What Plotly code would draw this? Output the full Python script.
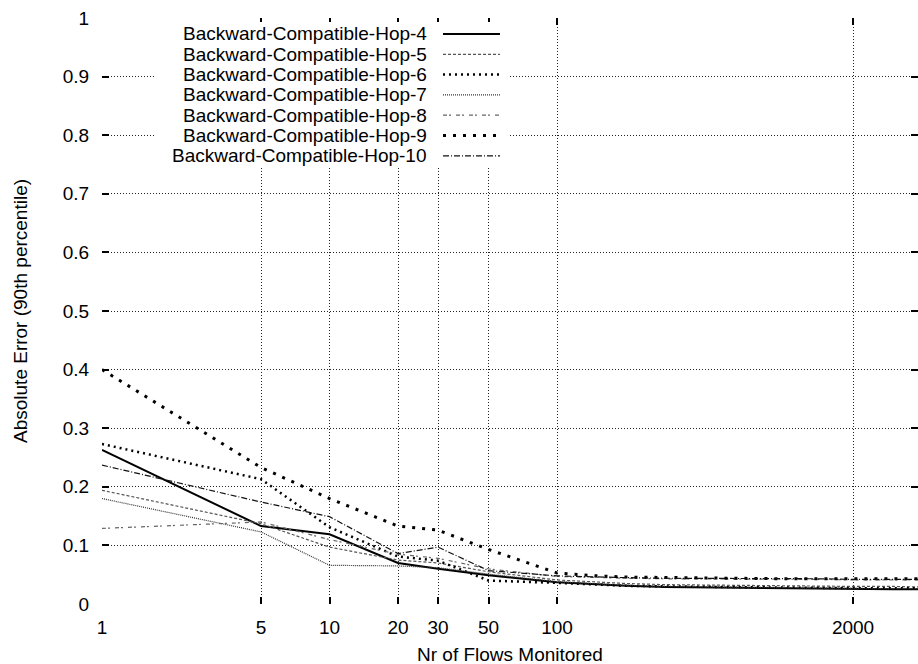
import math
import plotly.graph_objects as go

# ---- data ----
flows = [1, 5, 10, 20, 30, 50, 100, 150, 200, 300, 500, 700, 1000, 1500, 2000, 3000, 4000]
series_names = [
    "Backward-Compatible-Hop-4",
    "Backward-Compatible-Hop-5",
    "Backward-Compatible-Hop-6",
    "Backward-Compatible-Hop-7",
    "Backward-Compatible-Hop-8",
    "Backward-Compatible-Hop-9",
    "Backward-Compatible-Hop-10",
]
hop4 = [0.263, 0.133, 0.119, 0.070, 0.060, 0.049, 0.037, 0.033, 0.031, 0.029, 0.028, 0.027, 0.026, 0.026, 0.025, 0.025, 0.025]
hop5 = [0.194, 0.137, 0.097, 0.075, 0.070, 0.055, 0.041, 0.037, 0.035, 0.033, 0.032, 0.031, 0.031, 0.030, 0.030, 0.030, 0.029]
hop6 = [0.273, 0.213, 0.131, 0.081, 0.074, 0.040, 0.036, 0.033, 0.031, 0.030, 0.029, 0.028, 0.028, 0.027, 0.027, 0.027, 0.027]
hop7 = [0.180, 0.123, 0.066, 0.065, 0.062, 0.051, 0.038, 0.034, 0.032, 0.030, 0.029, 0.028, 0.028, 0.027, 0.027, 0.026, 0.026]
hop8 = [0.129, 0.140, 0.110, 0.085, 0.078, 0.060, 0.047, 0.045, 0.044, 0.043, 0.043, 0.042, 0.042, 0.042, 0.041, 0.041, 0.041]
hop9 = [0.400, 0.233, 0.180, 0.133, 0.126, 0.093, 0.053, 0.048, 0.046, 0.045, 0.044, 0.044, 0.043, 0.043, 0.043, 0.043, 0.043]
hop10 = [0.237, 0.174, 0.149, 0.086, 0.097, 0.057, 0.048, 0.046, 0.045, 0.044, 0.044, 0.043, 0.043, 0.043, 0.042, 0.042, 0.042]
series_values = [hop4, hop5, hop6, hop7, hop8, hop9, hop10]

x_tickvals = [1, 5, 10, 20, 30, 50, 100, 2000]
x_ticktext = ["1", "5", "10", "20", "30", "50", "100", "2000"]
y_tickvals = [0, 0.1, 0.2, 0.3, 0.4, 0.5, 0.6, 0.7, 0.8, 0.9, 1]
y_ticktext = ["0", "0.1", "0.2", "0.3", "0.4", "0.5", "0.6", "0.7", "0.8", "0.9", "1"]

# ---- styles ----
styles = [
    dict(color="#000000", width=2.0, dash="solid"),
    dict(color="#555555", width=1.2, dash="3px,2px"),
    dict(color="#000000", width=2.5, dash="2px,4px"),
    dict(color="#333333", width=1.2, dash="1px,1px"),
    dict(color="#666666", width=1.2, dash="4px,2px,2px,5px"),
    dict(color="#000000", width=3.0, dash="3px,7px"),
    dict(color="#111111", width=1.2, dash="6px,2px,1px,2px"),
]

FONT = "Liberation Sans, Arial, Helvetica, sans-serif"

fig = go.Figure()
for name, vals, st in zip(series_names, series_values, styles):
    fig.add_trace(go.Scatter(x=flows, y=vals, mode="lines", name=name,
                             line=st, showlegend=False))

# custom legend (text left, sample right, like gnuplot)
shapes = [dict(type="rect", xref="paper", yref="paper", x0=0.065, x1=0.4975,
               y0=0.7474, y1=0.9932, fillcolor="white", line=dict(width=0),
               layer="above")]
annotations = []
row0 = 0.9727
step = 0.03464
for i, (name, st) in enumerate(zip(series_names, styles)):
    yy = row0 - i * step
    annotations.append(dict(text=name, xref="paper", yref="paper", x=0.4007, y=yy,
                            xanchor="right", yanchor="middle", showarrow=False,
                            font=dict(family=FONT, size=19, color="black")))
    shapes.append(dict(type="line", xref="paper", yref="paper", x0=0.4179, x1=0.4877,
                       y0=yy, y1=yy, line=st, layer="above"))

annotations.append(dict(text="Nr of Flows Monitored", xref="paper", yref="paper",
                        x=0.5, y=-0.087, xanchor="center", yanchor="middle",
                        showarrow=False, font=dict(family=FONT, size=19, color="black")))
annotations.append(dict(text="Absolute Error (90th percentile)", xref="paper", yref="paper",
                        x=-0.1005, y=0.5, xanchor="center", yanchor="middle", textangle=-90,
                        showarrow=False, font=dict(family=FONT, size=19, color="black")))

fig.update_layout(
    width=918, height=664,
    margin=dict(l=102, r=0, t=18, b=60),
    paper_bgcolor="white", plot_bgcolor="white",
    font=dict(family=FONT, size=19, color="black"),
    shapes=shapes, annotations=annotations,
    showlegend=False,
)
fig.update_xaxes(
    type="log", range=[0, math.log10(3860)],
    tickmode="array", tickvals=x_tickvals, ticktext=x_ticktext,
    ticks="inside", ticklen=7, tickwidth=1.5, tickcolor="black",
    mirror="ticks", showline=True, linecolor="rgba(0,0,0,0)", zeroline=False,
    showgrid=True, gridcolor="#222222", gridwidth=1, griddash="1px,2px",
    ticklabelstandoff=6,
)
fig.update_yaxes(
    range=[0, 1],
    tickmode="array", tickvals=y_tickvals, ticktext=y_ticktext,
    ticks="inside", ticklen=7, tickwidth=1.5, tickcolor="black",
    mirror="ticks", showline=True, linecolor="rgba(0,0,0,0)", zeroline=False,
    showgrid=True, gridcolor="#222222", gridwidth=1, griddash="1px,2px",
    ticklabelstandoff=8,
)

fig.write_html("out.html")
